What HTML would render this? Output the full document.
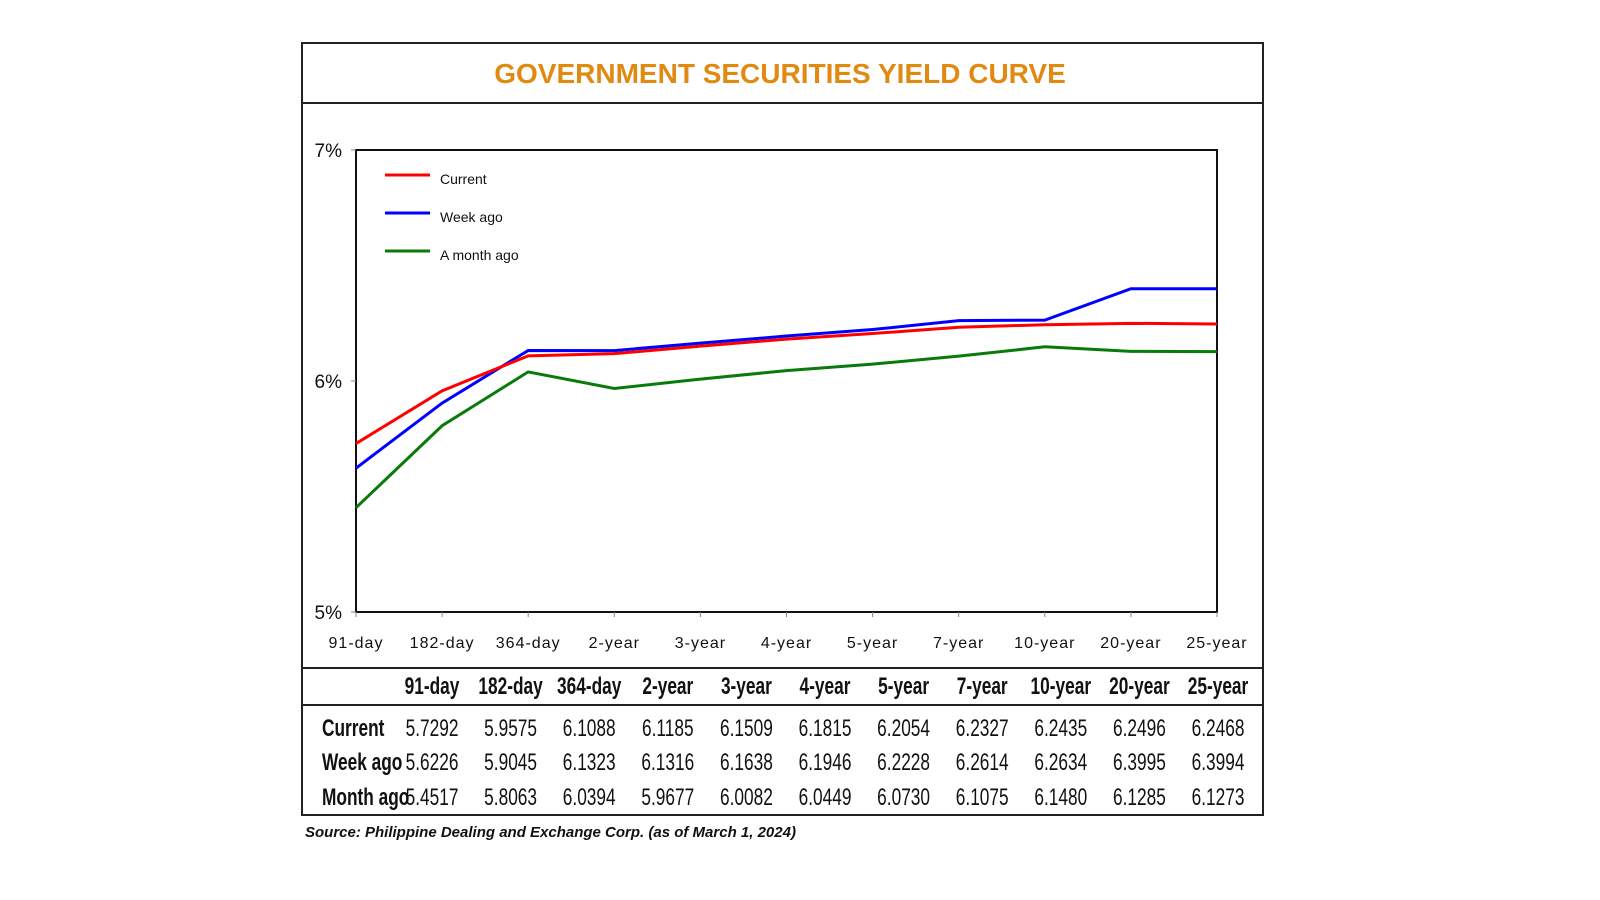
<!DOCTYPE html>
<html><head><meta charset="utf-8"><style>
body{margin:0;background:#fff;}
svg{display:block;font-family:"Liberation Sans",sans-serif;}
</style></head><body>
<svg id="c" width="1600" height="900" viewBox="0 0 1600 900">
<rect x="302" y="43" width="961" height="772" fill="#fff" stroke="#222" stroke-width="2"/>
<line x1="302" y1="103" x2="1263" y2="103" stroke="#222" stroke-width="2"/>
<text x="780" y="83" text-anchor="middle" font-size="28" font-weight="bold" fill="#e08a12">GOVERNMENT SECURITIES YIELD CURVE</text>
<rect x="356" y="150" width="861" height="462" fill="none" stroke="#111" stroke-width="2"/>
<g id="axes"></g>
<g id="lines"></g>
<g>
<line x1="385" y1="175" x2="430" y2="175" stroke="#f00" stroke-width="3"/>
<text x="440" y="184" font-size="14" fill="#111">Current</text>
<line x1="385" y1="213" x2="430" y2="213" stroke="#00f" stroke-width="3"/>
<text x="440" y="222" font-size="14" fill="#111">Week ago</text>
<line x1="385" y1="251" x2="430" y2="251" stroke="#0a7a0a" stroke-width="3"/>
<text x="440" y="260" font-size="14" fill="#111">A month ago</text>
</g>
<line x1="302" y1="668" x2="1263" y2="668" stroke="#222" stroke-width="2"/>
<line x1="302" y1="705" x2="1263" y2="705" stroke="#222" stroke-width="2"/>
<g id="table"></g>
<text x="305" y="837" font-size="15" font-weight="bold" font-style="italic" fill="#111">Source: Philippine Dealing and Exchange Corp. (as of March 1, 2024)</text>
</svg>
<script>
const categories=["91-day","182-day","364-day","2-year","3-year","4-year","5-year","7-year","10-year","20-year","25-year"];
const current=[5.7292,5.9575,6.1088,6.1185,6.1509,6.1815,6.2054,6.2327,6.2435,6.2496,6.2468];
const weekAgo=[5.6226,5.9045,6.1323,6.1316,6.1638,6.1946,6.2228,6.2614,6.2634,6.3995,6.3994];
const monthAgo=[5.4517,5.8063,6.0394,5.9677,6.0082,6.0449,6.0730,6.1075,6.1480,6.1285,6.1273];
const yTicks=[5,6,7];
const NS="http://www.w3.org/2000/svg";
const x0=356,x1=1217,y0=612,y1=150,ymin=5,ymax=7;
function X(i){return x0+(x1-x0)*i/(categories.length-1);}
function Y(v){return y0-(v-ymin)/(ymax-ymin)*(y0-y1);}
function mk(tag,attrs,parent,txt){const e=document.createElementNS(NS,tag);for(const k in attrs)e.setAttribute(k,attrs[k]);if(txt!==undefined)e.textContent=txt;parent.appendChild(e);return e;}
const axes=document.getElementById('axes');
yTicks.forEach(t=>{
  const l=mk('line',{x1:x0-5,x2:x0,y1:Y(t),y2:Y(t),stroke:'#888'},axes);
  
  
  const tx=mk('text',{x:342,y:Y(t)+7,'text-anchor':'end','font-size':19,fill:'#111'},axes,t+'%');
  
  
});
categories.forEach((c,i)=>{
  const l=mk('line',{x1:X(i),x2:X(i),y1:y0,y2:y0+5,stroke:'#888'},axes);
  
  
  const tx=mk('text',{x:X(i),y:648,'text-anchor':'middle','font-size':16,fill:'#111','letter-spacing':'1'},axes,c);
  
  
});
const lines=document.getElementById('lines');
[[monthAgo,'#0a7a0a','line-month-ago'],[weekAgo,'#00f','line-week-ago'],[current,'#f00','line-current']].forEach(([d,col,n])=>{
  const p=mk('polyline',{points:d.map((v,i)=>X(i)+','+Y(v)).join(' '),fill:'none',stroke:col,'stroke-width':3},lines);
  
  
});
const table=document.getElementById('table');
function ct(x,y,txt,bold,anchor,name){
  const t=mk('text',{x:0,y:0,'font-size':24,'font-weight':bold?'bold':'normal',fill:'#111','text-anchor':anchor,transform:`translate(${x},${y}) scale(0.72,1)`},table,txt);
  
  
}
const colX=i=>432+i*78.6;
categories.forEach((c,i)=>ct(colX(i),694,c,true,'middle','table-col-header'));
const rowLabels=["Current","Week ago","Month ago"];
const rowY=[736,770,805];
[current,weekAgo,monthAgo].forEach((row,r)=>{
  ct(322,rowY[r],rowLabels[r],true,'start','table-row-label');
  row.forEach((v,i)=>ct(colX(i),rowY[r],v.toFixed(4),false,'middle','table-cell'));
});
</script>
</body></html>
